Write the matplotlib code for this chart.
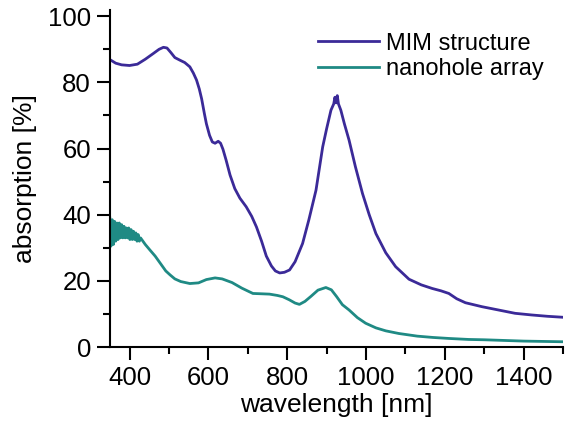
import matplotlib
matplotlib.use("Agg")
import matplotlib.pyplot as plt

plt.rcParams['font.family'] = ['Liberation Sans', 'DejaVu Sans']

# MIM structure
wl_mim = [350, 365, 380, 400, 420, 440, 460, 475, 486, 495, 505, 515, 528, 540,
          553, 562, 570, 577, 583, 590, 595, 603, 610, 617, 625, 631, 637, 645,
          655, 667, 680, 696, 710, 722, 735, 747, 760, 770, 781, 793, 806, 820,
          839, 855, 873, 890, 900, 911, 918, 921, 924, 927, 930, 936, 945, 957,
          973, 991, 1008, 1025, 1050, 1075, 1109, 1140, 1168, 1190, 1210, 1230,
          1252, 1294, 1336, 1378, 1420, 1460, 1500]
abs_mim = [86.9, 85.8, 85.3, 85.1, 85.5, 87.0, 88.7, 90.0, 90.6, 90.4, 89.0, 87.5,
           86.7, 86.0, 84.7, 82.8, 80.7, 78.0, 75.0, 70.5, 67.5, 64.0, 62.0, 61.6,
           62.2, 61.6, 59.8, 56.5, 52.0, 47.9, 45.0, 42.4, 39.5, 36.3, 32.0, 27.5,
           24.5, 23.0, 22.4, 22.6, 23.3, 25.8, 31.3, 38.5, 47.4, 60.5, 66.0, 71.6,
           73.5, 75.5, 73.8, 76.0, 73.5, 71.6, 67.5, 62.5, 54.5, 46.4, 40.0, 34.3,
           28.5, 24.3, 20.5, 18.8, 17.7, 17.0, 16.2, 14.6, 13.4, 12.2, 11.2, 10.2,
           9.7, 9.3, 9.0]

# nanohole array (noisy band at the short-wavelength end)
wl_hole = [350, 353, 356, 359, 362, 365, 368, 371, 374, 377, 380, 383, 386, 389,
           392, 395, 398, 401, 404, 407, 410, 413, 416, 419, 422, 425, 428, 440,
           452, 465, 480, 492, 503, 515, 530, 553, 575, 595, 617, 635, 660, 685,
           713, 735, 755, 775, 789, 805, 820, 831, 845, 860, 878, 898, 912, 925,
           940, 957, 978, 999, 1025, 1050, 1083, 1130, 1170, 1210, 1260, 1300,
           1350, 1400, 1450, 1500]
abs_hole = [39, 30.5, 38.5, 31, 38, 32, 37.5, 32.5, 37.5, 33, 37, 33, 36.5, 33,
            36, 33, 36, 32.5, 35.5, 32.5, 35, 32.5, 34.5, 32, 34, 32, 33, 31.0,
            29.3, 27.5, 25, 23, 21.8, 20.6, 19.8, 19.2, 19.4, 20.4, 20.9, 20.6,
            19.5, 17.8, 16.2, 16.1, 16.0, 15.6, 15.2, 14.3, 13.3, 12.9, 13.8, 15.3,
            17.2, 18.0, 17.3, 15.3, 12.8, 11.2, 8.9, 7.2, 5.8, 4.9, 4.1, 3.3, 2.9,
            2.6, 2.3, 2.2, 2.0, 1.8, 1.7, 1.6]

fig = plt.figure(figsize=(5.66, 4.36), dpi=100)
ax = fig.add_axes([0.194, 0.204, 0.801, 0.774])

ax.plot(wl_mim, abs_mim, color='#3b2a98', lw=2, label='MIM structure')
ax.plot(wl_hole, abs_hole, color='#1f8a84', lw=2, label='nanohole array')

ax.set_xlim(350, 1500)
ax.set_ylim(0, 102)
ax.set_xticks([400, 600, 800, 1000, 1200, 1400])
ax.set_xticks([500, 700, 900, 1100, 1300, 1500], minor=True)
ax.set_yticks([0, 20, 40, 60, 80, 100])
ax.set_yticks([10, 30, 50, 70, 90], minor=True)

for s in ['top', 'right']:
    ax.spines[s].set_visible(False)
for s in ['left', 'bottom']:
    ax.spines[s].set_linewidth(1.5)
ax.tick_params(which='major', direction='out', length=9.5, width=1.5,
               labelsize=18.5, pad=4)
ax.tick_params(which='minor', direction='out', length=5, width=1.5)

ax.set_xlabel('wavelength [nm]', fontsize=19, labelpad=2)
ax.set_ylabel('absorption [%]', fontsize=19, labelpad=8)

ax.legend(loc='upper left', bbox_to_anchor=(0.412, 0.995), frameon=False,
          fontsize=17, handlelength=2.6, handletextpad=0.3, labelspacing=0.15)

fig.savefig('out.png', dpi=100)
